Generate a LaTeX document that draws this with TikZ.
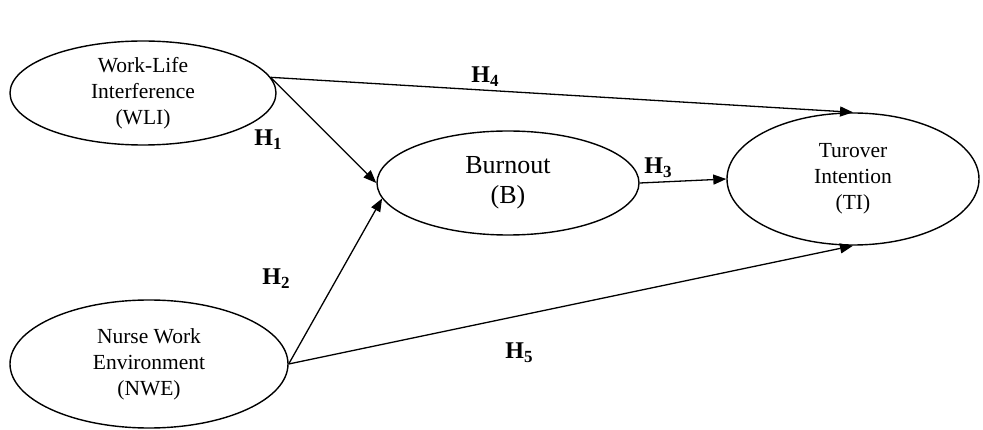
\documentclass[tikz,border=0pt]{standalone}
\usepackage{fontspec}
\setmainfont{Liberation Serif}
\usetikzlibrary{arrows.meta,positioning,shapes.geometric}
\newcommand{\hsub}[1]{H\raisebox{-4pt}{\fontsize{17}{17}\selectfont #1}}
\tikzset{
  construct/.style={draw,ellipse,line width=1.4pt,inner sep=0pt,align=center,
    font=\fontsize{21.5}{26}\selectfont},
  hyp/.style={-{Triangle[length=13pt,width=10pt]},line width=1.3pt},
  hlbl/.style={font=\fontsize{24}{28}\selectfont\bfseries,inner sep=1pt},
}

\begin{document}
\begin{tikzpicture}[x=1pt,y=-1pt]
  \useasboundingbox (0,0) rectangle (983,430);
  \node[construct,minimum width=266pt,minimum height=104pt](wli) at (143,93)
    {Work-Life\\Interference\\(WLI)};
  \node[construct,minimum width=278pt,minimum height=128pt](nwe) at (149,364)
    {Nurse Work\\Environment\\(NWE)};
  \node[construct,minimum width=262pt,minimum height=104pt,
    font=\fontsize{26}{30}\selectfont](bo) at (508,183){Burnout\\(B)};
  \node[construct,minimum width=252pt,minimum height=132pt](ti) at (853,179)
    {Turover\\Intention\\(TI)};

  \draw[hyp](wli.7)--(bo.west);
  \draw[hyp](nwe.east)--(bo.187);
  \draw[hyp](bo.east)--(ti.west);
  \draw[hyp](wli.7)--(ti.north);
  \draw[hyp](nwe.east)--(ti.south);

  \node[hlbl] at (268,140){\hsub{1}};
  \node[hlbl] at (276,279){\hsub{2}};
  \node[hlbl] at (658,168){\hsub{3}};
  \node[hlbl] at (485,77){\hsub{4}};
  \node[hlbl] at (519,353){\hsub{5}};
\end{tikzpicture}
\end{document}
